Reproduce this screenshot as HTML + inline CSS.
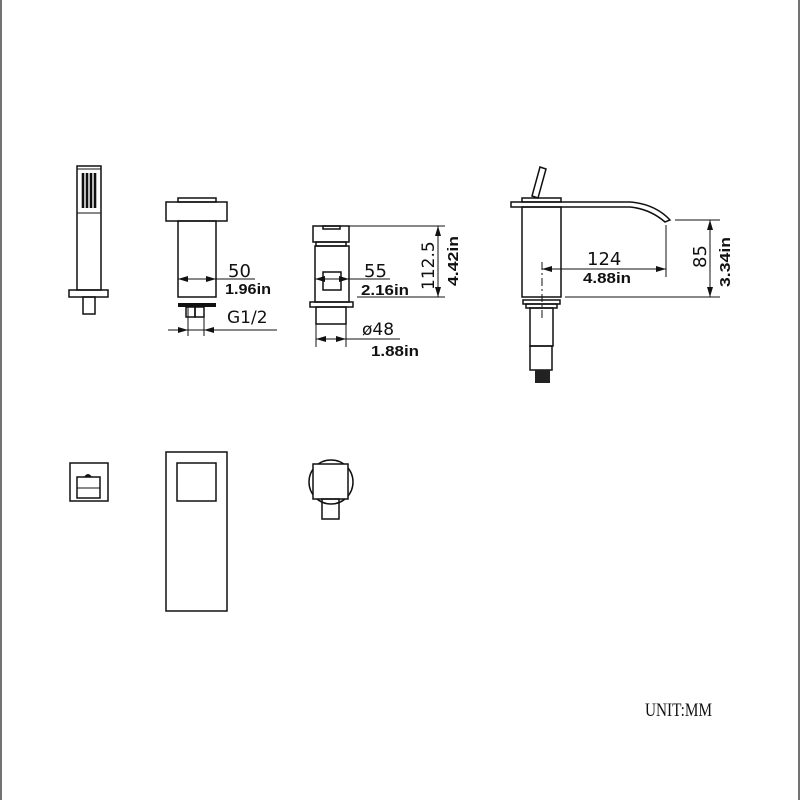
<!DOCTYPE html>
<html><head><meta charset="utf-8"><style>
html,body{margin:0;padding:0;background:#fff;}
svg{display:block;}
.l{fill:none;stroke:#111;stroke-width:1.5;}
.t{stroke:#111;stroke-width:1;fill:none;}
.d{font-family:"DejaVu Sans","Liberation Sans",sans-serif;fill:#111;}
.b{font-family:"Liberation Sans",sans-serif;font-weight:bold;fill:#111;}
</style></head><body>
<svg width="800" height="800" viewBox="0 0 800 800" xmlns="http://www.w3.org/2000/svg">
<defs>
<marker id="a" viewBox="0 0 10 6" refX="10" refY="3" markerWidth="10" markerHeight="6" orient="auto-start-reverse" markerUnits="userSpaceOnUse"><path d="M0,0 L10,3 L0,6 z" fill="#111"/></marker>
</defs>
<line x1="1" y1="0" x2="1" y2="800" stroke="#444" stroke-width="1.5"/>
<line x1="799" y1="0" x2="799" y2="800" stroke="#444" stroke-width="1.5"/>

<rect class="l" x="77" y="166" width="24" height="124"/>
<line class="t" x1="77" y1="169" x2="101" y2="169"/>
<line class="t" x1="77" y1="213" x2="101" y2="213"/>
<g stroke="#111" stroke-width="2.6">
<line x1="83" y1="173" x2="83" y2="208"/><line x1="87" y1="173" x2="87" y2="208"/>
<line x1="91" y1="173" x2="91" y2="208"/><line x1="95" y1="173" x2="95" y2="208"/></g>
<rect class="l" x="69" y="290" width="39" height="7"/>
<rect class="l" x="83" y="297" width="12" height="17"/>

<rect class="l" x="178" y="198" width="38" height="4"/>
<rect class="l" x="166" y="202" width="61" height="19"/>
<rect class="l" x="178" y="221" width="38" height="76"/>
<line class="t" x1="178" y1="279" x2="255" y2="279"/>
<line class="t" x1="198" y1="279" x2="178" y2="279" marker-end="url(#a)"/>
<line class="t" x1="198" y1="279" x2="216" y2="279" marker-end="url(#a)"/>
<text class="d" x="228" y="277" font-size="18">50</text>
<text class="b" x="225" y="294" font-size="15" textLength="46" lengthAdjust="spacingAndGlyphs">1.96in</text>
<rect x="178" y="303" width="38" height="4" fill="#111"/>
<rect class="l" x="186" y="307" width="9" height="10"/>
<rect class="l" x="195" y="307" width="9" height="10"/>
<line class="t" x1="188" y1="307" x2="188" y2="336"/>
<line class="t" x1="204" y1="307" x2="204" y2="336"/>
<line class="t" x1="168" y1="330" x2="277" y2="330"/>
<line class="t" x1="174" y1="330" x2="188" y2="330" marker-end="url(#a)"/>
<line class="t" x1="218" y1="330" x2="204" y2="330" marker-end="url(#a)"/>
<text class="d" x="227" y="323" font-size="17">G1/2</text>

<rect class="l" x="313" y="226" width="36" height="16"/>
<rect class="l" x="323" y="226" width="17" height="3"/>
<rect class="l" x="316" y="242" width="30" height="4"/>
<rect class="l" x="315" y="246" width="34" height="56"/>
<rect class="l" x="323" y="272" width="18" height="18"/>
<rect class="l" x="310" y="302" width="43" height="5"/>
<rect class="l" x="316" y="307" width="30" height="17"/>
<line class="t" x1="316" y1="324" x2="316" y2="347"/>
<line class="t" x1="346" y1="324" x2="346" y2="347"/>
<line class="t" x1="315" y1="279" x2="390" y2="279"/>
<line class="t" x1="330" y1="279" x2="315" y2="279" marker-end="url(#a)"/>
<line class="t" x1="330" y1="279" x2="349" y2="279" marker-end="url(#a)"/>
<text class="d" x="364" y="277" font-size="18">55</text>
<text class="b" x="361" y="295" font-size="15" textLength="48" lengthAdjust="spacingAndGlyphs">2.16in</text>
<line class="t" x1="349" y1="226" x2="445" y2="226"/>
<line class="t" x1="357" y1="297" x2="445" y2="297"/>
<line class="t" x1="438" y1="226" x2="438" y2="297" marker-start="url(#a)" marker-end="url(#a)"/>
<text class="d" font-size="17" transform="translate(434,290) rotate(-90)">112.5</text>
<text class="b" font-size="15" transform="translate(458,286) rotate(-90)" textLength="50" lengthAdjust="spacingAndGlyphs">4.42in</text>
<line class="t" x1="316" y1="339" x2="400" y2="339"/>
<line class="t" x1="331" y1="339" x2="316" y2="339" marker-end="url(#a)"/>
<line class="t" x1="331" y1="339" x2="346" y2="339" marker-end="url(#a)"/>
<text class="d" x="362" y="335" font-size="17">ø48</text>
<text class="b" x="371" y="356" font-size="15" textLength="48" lengthAdjust="spacingAndGlyphs">1.88in</text>

<polygon class="l" points="540,167 546,169 538,198 532,196"/>
<rect class="l" x="522" y="198" width="39" height="4"/>
<path class="l" d="M511,202 L630,202 Q655,204 670,220 L665,222 Q650,209 630,207 L511,207 Z"/>
<rect class="l" x="522" y="207" width="39" height="90"/>
<rect class="l" x="523" y="300" width="37" height="4"/>
<rect class="l" x="526" y="304" width="31" height="4"/>
<rect class="l" x="530" y="308" width="23" height="38"/>
<rect class="l" x="530" y="346" width="22" height="24"/>
<rect x="535" y="370" width="15" height="13" fill="#222"/>
<line class="t" x1="542" y1="262" x2="542" y2="320" stroke-dasharray="8,3,2,3"/>
<line class="t" x1="666" y1="225" x2="666" y2="277"/>
<line class="t" x1="542" y1="269" x2="666" y2="269" marker-start="url(#a)" marker-end="url(#a)"/>
<text class="d" x="587" y="265" font-size="18">124</text>
<text class="b" x="583" y="283" font-size="15" textLength="48" lengthAdjust="spacingAndGlyphs">4.88in</text>
<line class="t" x1="675" y1="220" x2="720" y2="220"/>
<line class="t" x1="565" y1="297" x2="720" y2="297"/>
<line class="t" x1="710" y1="220" x2="710" y2="297" marker-start="url(#a)" marker-end="url(#a)"/>
<text class="d" font-size="18" transform="translate(706,268) rotate(-90)">85</text>
<text class="b" font-size="15" transform="translate(730,287) rotate(-90)" textLength="50" lengthAdjust="spacingAndGlyphs">3.34in</text>

<rect class="l" x="70" y="463" width="38" height="38"/>
<rect class="l" x="77" y="477" width="23" height="21"/>
<line class="t" x1="77" y1="488" x2="100" y2="488"/>
<path d="M84,477 Q88,471 92,477 Z" fill="#111"/>
<rect class="l" x="166" y="452" width="61" height="159"/>
<rect class="l" x="177" y="463" width="39" height="38"/>
<circle class="l" cx="331" cy="482" r="22"/>
<rect x="313" y="464" width="35" height="35" fill="#fff" stroke="#111" stroke-width="1.5"/>
<rect class="l" x="322" y="499" width="17" height="20"/>

<text x="645" y="716" font-family="'Liberation Serif',serif" font-size="19" fill="#111" textLength="67" lengthAdjust="spacingAndGlyphs">UNIT:MM</text>
</svg>
</body></html>
